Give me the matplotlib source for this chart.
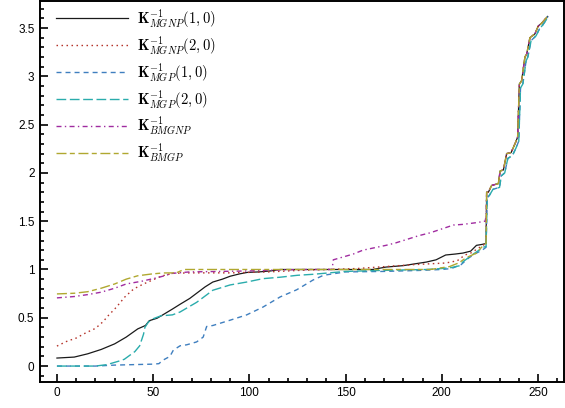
import matplotlib
matplotlib.use('Agg')
import matplotlib.pyplot as plt
from matplotlib.ticker import MultipleLocator

plt.rcParams['font.family'] = ['Liberation Sans', 'DejaVu Sans']
plt.rcParams['mathtext.fontset'] = 'cm'

# shared staircase tail (all estimators agree for the last ~30 points)
tail_x = [223.3, 224.2, 225.9, 229.4, 230.3, 232, 233.7, 236, 238, 239.4, 240.3,
          241.5, 243.2, 244.1, 245.8, 248.4, 250.1, 251.9, 254.5, 255]
tail_y = [1.80, 1.80, 1.87, 1.89, 2.02, 2.03, 2.20, 2.21, 2.30, 2.37, 2.92,
          2.955, 3.20, 3.23, 3.40, 3.44, 3.52, 3.55, 3.61, 3.62]
# slightly lagging version (MGP curves)
lag_x = [223.6, 224.8, 226.6, 230.0, 230.9, 232.7, 234.3, 236.7, 238.6, 240.0, 240.9,
         242.1, 243.8, 244.7, 246.4, 249.0, 250.7, 252.4, 254.8, 255]
lag_y = [1.74, 1.77, 1.83, 1.85, 1.97, 2.00, 2.15, 2.18, 2.26, 2.33, 2.88,
         2.92, 3.16, 3.20, 3.37, 3.42, 3.49, 3.53, 3.60, 3.62]

mgnp10_x = [0, 9, 16, 23, 30, 36, 42, 46, 48, 52, 55, 60, 64, 69, 73, 77, 81, 86, 90,
            95, 99, 105, 111, 116, 164, 171, 180, 192, 197, 202, 207, 211, 215, 218, 221, 223]
mgnp10_y = [0.083, 0.093, 0.127, 0.172, 0.23, 0.30, 0.385, 0.42, 0.47, 0.495, 0.53, 0.59,
            0.64, 0.70, 0.76, 0.82, 0.87, 0.90, 0.93, 0.955, 0.97, 0.975, 0.985, 1.0, 1.0,
            1.025, 1.04, 1.077, 1.10, 1.15, 1.16, 1.17, 1.19, 1.25, 1.26, 1.27]

mgnp20_x = [0, 5, 10, 15, 20, 24, 27, 30, 33, 35, 38, 40, 45, 49, 53, 55, 60, 69, 90,
            110, 125, 140, 156, 185, 202, 208, 212, 215, 219, 223]
mgnp20_y = [0.207, 0.255, 0.29, 0.344, 0.39, 0.46, 0.53, 0.59, 0.66, 0.71, 0.765, 0.80,
            0.85, 0.885, 0.92, 0.935, 0.96, 0.965, 0.965, 0.975, 0.99, 1.0, 1.01, 1.05,
            1.067, 1.09, 1.15, 1.17, 1.22, 1.27]

mgp10_x = [0, 20, 30, 50, 53, 55, 58.7, 60.5, 64, 67.4, 72.6, 76, 77.8, 81, 90, 98.6,
           107, 116, 124.6, 133, 138.5, 150, 170, 188, 200, 205, 210, 214, 218, 221, 223]
mgp10_y = [0, 0, 0.01, 0.02, 0.025, 0.06, 0.10, 0.165, 0.21, 0.22, 0.25, 0.30, 0.41,
           0.42, 0.475, 0.53, 0.61, 0.716, 0.79, 0.89, 0.94, 0.975, 0.98, 0.99, 1.0, 1.01,
           1.05, 1.12, 1.17, 1.20, 1.23]

mgp20_x = [0, 20, 26, 32, 35, 40.5, 43, 45, 45.7, 47.5, 50, 54, 60, 64, 67, 72.6, 78,
           81, 90, 98.6, 107, 116, 125, 133, 150, 168, 192, 200, 205, 209.5, 211, 216.4,
           221.6, 223]
mgp20_y = [0, 0, 0.015, 0.05, 0.07, 0.15, 0.21, 0.33, 0.40, 0.455, 0.49, 0.52, 0.53, 0.56,
           0.595, 0.66, 0.74, 0.785, 0.84, 0.87, 0.905, 0.92, 0.94, 0.95, 0.98, 0.99, 1.0,
           1.01, 1.02, 1.04, 1.08, 1.16, 1.23, 1.24]

bmgnp_x = [0, 9, 16, 23, 30, 36, 44, 51, 55, 60, 69, 85, 100, 115, 130, 143, 143.6, 154,
           159, 171, 176, 188, 194, 206, 211, 218, 222.5, 223]
bmgnp_y = [0.706, 0.72, 0.74, 0.765, 0.806, 0.85, 0.878, 0.91, 0.93, 0.96, 0.975, 0.98,
           0.985, 0.995, 1.0, 1.0, 1.10, 1.16, 1.2, 1.25, 1.275, 1.35, 1.38, 1.46, 1.467,
           1.485, 1.50, 1.55]

bmgp_x = [0, 9, 16, 23, 30, 36, 42, 49, 55, 62, 66, 194, 204, 209, 212.5, 218, 222, 223]
bmgp_y = [0.747, 0.754, 0.77, 0.806, 0.85, 0.90, 0.935, 0.953, 0.964, 0.965, 1.0, 1.0,
          1.03, 1.07, 1.12, 1.17, 1.26, 1.27]

labels = [r'$\mathbf{K}^{-1}_{MGNP}(1,0)$', r'$\mathbf{K}^{-1}_{MGNP}(2,0)$',
          r'$\mathbf{K}^{-1}_{MGP}(1,0)$', r'$\mathbf{K}^{-1}_{MGP}(2,0)$',
          r'$\mathbf{K}^{-1}_{BMGNP}$', r'$\mathbf{K}^{-1}_{BMGP}$']

fig = plt.figure(figsize=(5.65, 4.08), dpi=100)
ax = fig.add_axes([40/565, 26/408, 524/565, 381/408])

ax.plot(mgnp10_x + tail_x, mgnp10_y + tail_y, color='#1a1a1a', lw=0.9, label=labels[0])
ax.plot(mgnp20_x + tail_x, mgnp20_y + tail_y, color='#b5332a', lw=1.0,
        dashes=(1.1, 2.5), label=labels[1])
ax.plot(mgp10_x + lag_x, mgp10_y + lag_y, color='#3f7fbf', lw=1.0,
        dashes=(3.6, 2.9), label=labels[2])
ax.plot(mgp20_x + lag_x, mgp20_y + lag_y, color='#2aacac', lw=1.0,
        dashes=(7.0, 2.6), label=labels[3])
ax.plot(bmgnp_x + tail_x, bmgnp_y + tail_y, color='#a02ca0', lw=1.0,
        dashes=(3.6, 2.4, 1.0, 2.4), label=labels[4])
ax.plot(bmgp_x + tail_x, bmgp_y + tail_y, color='#b0a830', lw=1.0,
        dashes=(7.2, 2.4, 3.6, 2.6), label=labels[5])

ax.set_xlim(-8.8, 263.5)
ax.set_ylim(-0.165, 3.78)
ax.xaxis.set_major_locator(MultipleLocator(50))
ax.xaxis.set_minor_locator(MultipleLocator(10))
ax.yaxis.set_major_locator(MultipleLocator(0.5))
ax.yaxis.set_minor_locator(MultipleLocator(0.1))
ax.set_yticks([0, 0.5, 1, 1.5, 2, 2.5, 3, 3.5])
ax.set_yticklabels(['0', '0.5', '1', '1.5', '2', '2.5', '3', '3.5'])
ax.tick_params(which='both', direction='in', top=False, right=False, width=1.2)
ax.tick_params(which='major', length=6, labelsize=8.5)
ax.tick_params(which='minor', length=3)
ax.tick_params(axis='x', pad=3.5)
ax.tick_params(axis='y', pad=4)
for s in ax.spines.values():
    s.set_linewidth(1.4)

ax.legend(loc='upper left', bbox_to_anchor=(0.02, 1.0), frameon=False, fontsize=10.5,
          handlelength=4.9, handletextpad=0.6, labelspacing=0.29, borderaxespad=0.0)

fig.savefig('out.png', dpi=100)
